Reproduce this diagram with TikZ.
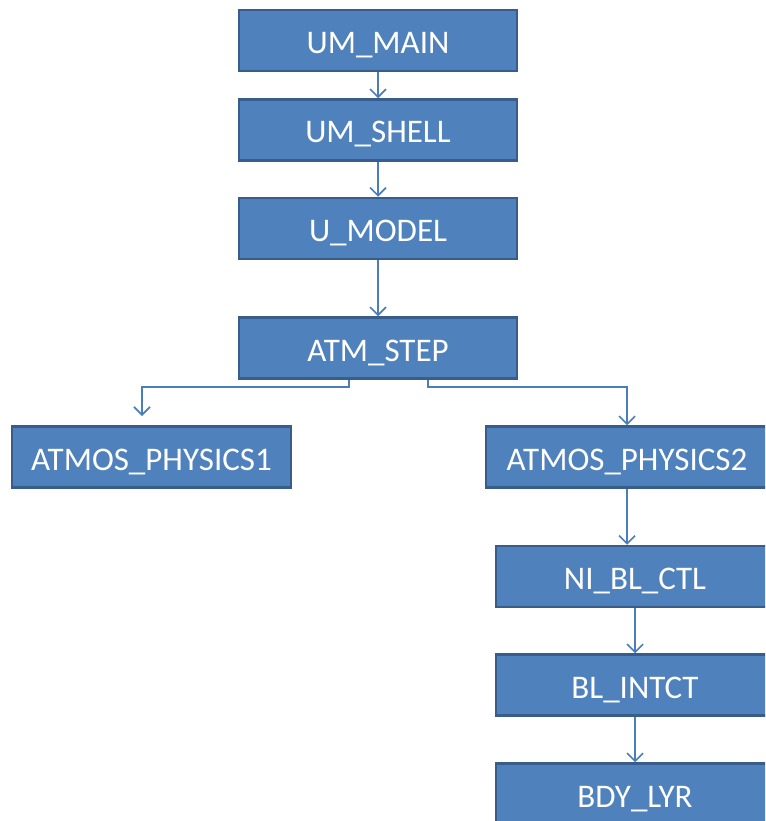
\documentclass[tikz,border=0pt]{standalone}
\usepackage{fontspec}
\setmainfont{Carlito}
\usetikzlibrary{arrows.meta}
\definecolor{boxfill}{HTML}{4F81BD}
\definecolor{boxdraw}{HTML}{385D8A}
\definecolor{linecol}{HTML}{4A7EBB}
\tikzset{
  blk/.style={draw=boxdraw, line width=2.5pt, fill=boxfill, text=white, minimum height=61pt, inner sep=0pt,
    text height=26pt, text depth=0pt, font=\fontsize{33}{40}\selectfont},
  conn/.style={draw=linecol, line width=1.6pt, -{Straight Barb[length=8pt,width=16pt,line width=1.6pt]}}
}
\begin{document}
\begin{tikzpicture}[x=1pt,y=-1pt]
\useasboundingbox (0,0) rectangle (765,821);
\clip (0,0) rectangle (765,821);
\node[blk, minimum width=278pt] (main) at (378,40.5) {UM\_MAIN};
\node[blk, minimum width=278pt] (shell) at (378,130) {UM\_SHELL};
\node[blk, minimum width=278pt] (model) at (378,228.5) {U\_MODEL};
\node[blk, minimum width=278pt] (atm) at (378,348) {ATM\_STEP};
\node[blk, minimum width=279pt] (ap1) at (151.5,457) {ATMOS\_PHYSICS1};
\node[blk, minimum width=282pt] (ap2) at (627,457) {ATMOS\_PHYSICS2};
\node[blk, minimum width=278pt] (ni) at (635,576.5) {NI\_BL\_CTL};
\node[blk, minimum width=278pt] (bl) at (635,685) {BL\_INTCT};
\node[blk, minimum width=278pt] (bdy) at (635,794) {BDY\_LYR};
\coordinate (l1) at (349,387);
\coordinate (l2) at (142,387);
\coordinate (l3) at (142,416);
\coordinate (r1) at (428,387);
\coordinate (r2) at (627,387);
\draw[conn] (main) -- (shell);
\draw[conn] (shell) -- (model);
\draw[conn] (model) -- (atm);
\draw[conn] (l1 |- atm.south) -- (l1) -- (l2) -- (l3);
\draw[conn] (r1 |- atm.south) -- (r1) -- (r2) -- (r2 |- ap2.north);
\draw[conn] (ap2.south) -- (ap2.south |- ni.north);
\draw[conn] (ni) -- (bl);
\draw[conn] (bl) -- (bdy);
\end{tikzpicture}
\end{document}
